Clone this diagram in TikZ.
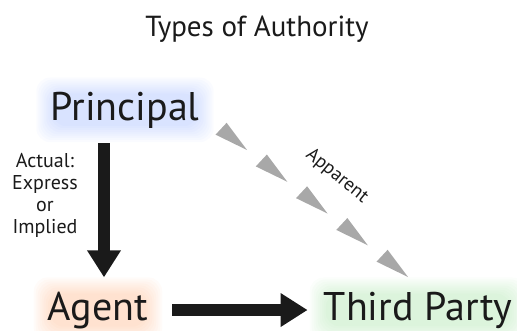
\documentclass[tikz,border=0pt]{standalone}
\usepackage{fontspec}
\setmainfont{PT Sans}
\usetikzlibrary{arrows.meta,backgrounds,calc}
\definecolor{glowblue}{RGB}{120,155,255}
\definecolor{gloworange}{RGB}{255,150,85}
\definecolor{glowgreen}{RGB}{130,215,130}
\definecolor{apgray}{RGB}{168,168,168}
\definecolor{inkblack}{RGB}{26,26,26}

\begin{document}
\begin{tikzpicture}[x=1pt,y=1pt,line join=round,
		party/.style={inner sep=0pt,anchor=base,text=inkblack,font=\fontsize{40}{42}\selectfont},
		bigarrow/.style={line width=12pt,draw=inkblack,-{Triangle[length=27pt,width=32pt]}},
		glow/.style={opacity=0.035,rounded corners=14pt}]
		\useasboundingbox (0,0) rectangle (517,-330);
		\node[anchor=base,text=inkblack,font=\fontsize{29}{31}\selectfont] (title) at (257,-36) {Types of Authority};
		\node[party] (principal) at (125,-120) {Principal};
		\node[party] (agent) at (98,-320) {Agent};
		\node[party] (third) at (418,-320) {Third Party};
		\node[anchor=north,align=center,text=inkblack,inner sep=0pt,font=\fontsize{20}{22}\selectfont] (actual) at (45,-153) {Actual:\\Express\\or\\Implied};
		\node[rotate=-39,text=inkblack,font=\fontsize{19}{20}\selectfont] (apparent) at (337,-176) {Apparent};
		\draw[bigarrow,shorten <=15pt,shorten >=14pt] ([xshift=-21pt]principal.south) -- ([xshift=-21pt]principal.south |- agent.north);
		\draw[bigarrow,shorten <=24pt,shorten >=16pt] (agent.east) -- (agent.east -| third.west);
		\path
		(247,-150) coordinate (apfrom)
		(408,-277) coordinate (apto)
		;
		\foreach \i in {0,...,4}
		\fill[apgray] ($(apfrom)!\i/4!(apto)$) -- +(126.8:34) -- +(154:35) -- cycle;
		\begin{scope}[on background layer]
			\foreach \n/\c in {principal/glowblue,agent/gloworange,third/glowgreen}
			\foreach \k in {-2,0,...,14}
			\fill[\c,glow] ([shift={(-\k pt,-\k pt)}]\n.south west) rectangle ([shift={(\k pt,\k pt)}]\n.north east);
		\end{scope}
\end{tikzpicture}
\end{document}
